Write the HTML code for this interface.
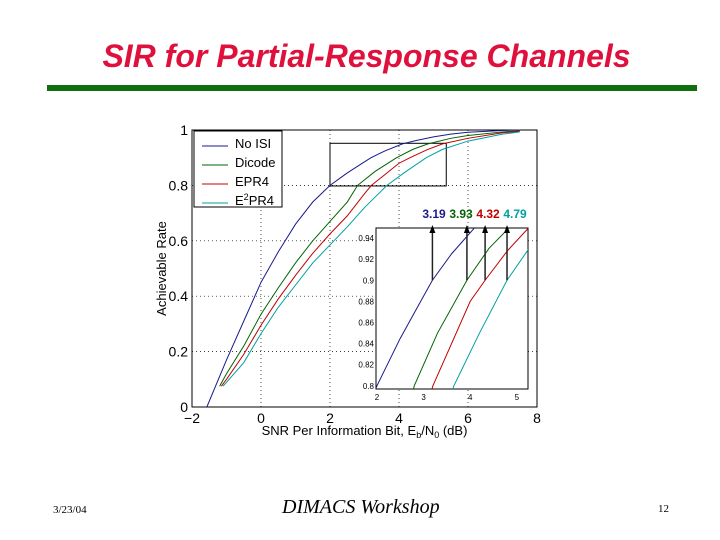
<!DOCTYPE html>
<html><head><meta charset="utf-8"><style>
body{margin:0;background:#fff;width:720px;height:540px;overflow:hidden;position:relative;font-family:"Liberation Sans",sans-serif}
</style></head><body>
<div style="position:absolute;left:0;width:733px;top:37px;text-align:center;font:italic bold 32px 'Liberation Sans',sans-serif;color:#e0103c;line-height:38px">SIR for Partial-Response Channels</div>
<div style="position:absolute;left:47px;top:85px;width:650px;height:6px;background:#107010"></div>
<svg id="chart" width="720" height="540" style="position:absolute;left:0;top:0" font-family="Liberation Sans, sans-serif"></svg>
<div style="position:absolute;left:53px;top:503px;font:11px 'Liberation Serif',serif;line-height:14px">3/23/04</div>
<div style="position:absolute;left:282px;top:495px;font:italic 20px 'Liberation Serif',serif;line-height:24px">DIMACS Workshop</div>
<div style="position:absolute;left:658px;top:502px;font:11px 'Liberation Serif',serif;line-height:14px">12</div>
<script>
const seriesNames=["No ISI","Dicode","EPR4","E2PR4"];
const seriesColors=["#1a1a8c","#006400","#c00000","#00a0a0"];
const noIsiX=[-1.57,-1,-0.5,0,0.5,1,1.5,2,2.5,3,3.19,3.6,4.1,4.5,5,5.5,6,7,7.5];
const noIsiY=[0,0.17,0.31,0.45,0.56,0.66,0.74,0.8,0.845,0.885,0.9,0.925,0.95,0.962,0.975,0.985,0.992,0.998,1];
const dicodeX=[-1.2,-1,-0.5,0,0.5,1,1.5,2,2.5,2.8,3.3,3.93,4.4,4.84,5.5,6,7,7.5];
const dicodeY=[0.075,0.12,0.22,0.335,0.43,0.52,0.6,0.67,0.74,0.8,0.85,0.9,0.93,0.95,0.97,0.98,0.993,0.997];
const epr4X=[-1.15,-1,-0.5,0,0.5,1,1.5,2,2.5,3,3.2,3.5,4,4.32,4.8,5.26,6,7,7.5];
const epr4Y=[0.075,0.1,0.19,0.295,0.39,0.475,0.555,0.625,0.69,0.77,0.8,0.83,0.88,0.9,0.928,0.95,0.97,0.99,0.995];
const e2pr4X=[-1.1,-0.5,0,0.5,1,1.5,2,2.5,3,3.65,4.2,4.79,5.26,6,7,7.5];
const e2pr4Y=[0.075,0.16,0.265,0.36,0.44,0.52,0.585,0.65,0.72,0.8,0.85,0.9,0.93,0.96,0.985,0.993];
const xTicks=[-2,0,2,4,6,8];
const yTicks=[0,0.2,0.4,0.6,0.8,1];
const insetXTicks=[2,3,4,5];
const insetYTicks=[0.8,0.82,0.84,0.86,0.88,0.9,0.92,0.94];
const thresholds=[3.19,3.93,4.32,4.79];
const NS="http://www.w3.org/2000/svg";
const svg=document.getElementById('chart');
function mk(t,a,p){const e=document.createElementNS(NS,t);for(const k in a)e.setAttribute(k,a[k]);(p||svg).appendChild(e);return e;}
const L=192,R=537,T=130,B=407;
const sx=x=>L+(x+2)/10*(R-L), sy=y=>B-y*(B-T);
const IL=376,IR=528,IT=228,IB=389,ix0=1.98,ix1=5.24,iy0=0.797,iy1=0.9495;
const ix=x=>IL+(x-ix0)/(ix1-ix0)*(IR-IL), iy=y=>IB-(y-iy0)/(iy1-iy0)*(IB-IT);
const allX=[noIsiX,dicodeX,epr4X,e2pr4X], allY=[noIsiY,dicodeY,epr4Y,e2pr4Y];
xTicks.forEach(v=>{const g=mk('line',{x1:sx(v),x2:sx(v),y1:T,y2:B,stroke:'#000','stroke-dasharray':'1,3','stroke-width':0.7});
const t=mk('text',{x:sx(v),y:B+16,'font-size':14,'text-anchor':'middle'});t.textContent=v<0?'\u2212'+(-v):v;});
yTicks.forEach(v=>{const g=mk('line',{x1:L,x2:R,y1:sy(v),y2:sy(v),stroke:'#000','stroke-dasharray':'1,3','stroke-width':0.7});
const t=mk('text',{x:L-4,y:sy(v)+5,'font-size':14,'text-anchor':'end'});t.textContent=v;});
const fr=mk('rect',{x:L,y:T,width:R-L,height:B-T,fill:'none',stroke:'#000'});
const xt=mk('text',{x:(L+R)/2,y:B+28,'font-size':13,'text-anchor':'middle'});xt.innerHTML='SNR Per Information Bit, E<tspan font-size="9" dy="3">b</tspan><tspan dy="-3">/N</tspan><tspan font-size="9" dy="3">0</tspan><tspan dy="-3"> (dB)</tspan>';
const yt=mk('text',{x:0,y:0,'font-size':13,'text-anchor':'middle',transform:`translate(166,${(T+B)/2}) rotate(-90)`});yt.textContent='Achievable Rate';
const zr=mk('rect',{x:sx(2),y:sy(0.952),width:sx(5.37)-sx(2),height:sy(0.798)-sy(0.952),fill:'none',stroke:'#000'});
allX.forEach((xs,i)=>{const p=mk('polyline',{points:xs.map((x,j)=>sx(x)+','+sy(allY[i][j])).join(' '),fill:'none',stroke:seriesColors[i],'stroke-width':1});});
const lg=mk('rect',{x:194,y:131,width:88,height:76,fill:'#fff',stroke:'#000'});
seriesNames.forEach((n,i)=>{const y=142+i*19;const l=mk('line',{x1:202,x2:228,y1:y+4,y2:y+4,stroke:seriesColors[i]});
const t=mk('text',{x:235,y:y+6,'font-size':13});if(i==3)t.innerHTML='E<tspan font-size="9" dy="-5">2</tspan><tspan dy="5">PR4</tspan>';else t.textContent=n;});
const ib=mk('rect',{x:IL,y:IT,width:IR-IL,height:IB-IT,fill:'#fff',stroke:'#000'});
const clip=mk('clipPath',{id:'ic'});mk('rect',{x:IL,y:IT,width:IR-IL,height:IB-IT},clip);
insetXTicks.forEach(v=>{const t=mk('text',{x:ix(v),y:IB+11,'font-size':8,'text-anchor':'middle'});t.textContent=v;});
insetYTicks.forEach(v=>{const t=mk('text',{x:IL-2,y:iy(v)+3,'font-size':8,'text-anchor':'end'});t.textContent=v;});
allX.forEach((xs,i)=>{const p=mk('polyline',{points:xs.map((x,j)=>ix(x)+','+iy(allY[i][j])).join(' '),fill:'none',stroke:seriesColors[i],'stroke-width':1,'clip-path':'url(#ic)'});});
thresholds.forEach((v,i)=>{const x=ix(v);const a=mk('line',{x1:x,x2:x,y1:iy(0.9),y2:IT-1,stroke:'#222','stroke-width':1.5});
const h=mk('polygon',{points:`${x-3},${IT+5} ${x+3},${IT+5} ${x},${IT-3}`,fill:'#000'});
const t=mk('text',{x:434+i*27,y:218,'font-size':12,'font-weight':'bold','text-anchor':'middle',fill:seriesColors[i]});t.textContent=v.toFixed(2);});
</script>
</body></html>
